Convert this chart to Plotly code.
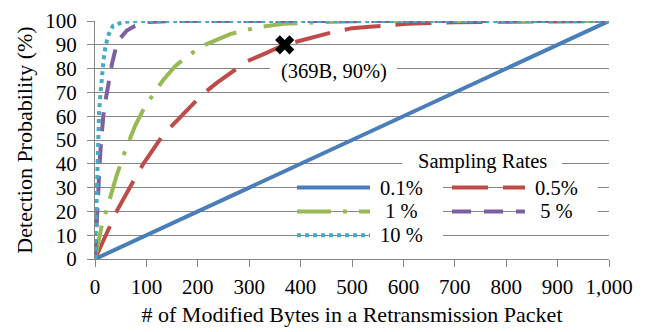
import plotly.graph_objects as go

# ---------------- data ----------------
names = ["0.1%", "0.5%", "1 %", "5 %", "10 %"]

x_01 = [0, 1000]
y_01 = [0, 100]

x_05 = [0, 15, 29, 42, 78, 94, 132, 159, 208, 237, 295, 327, 369, 457, 500, 535, 607, 700, 800, 1000]
y_05 = [0, 7.5, 14, 20, 34, 40, 52, 58, 69, 74, 83, 86, 90, 95, 97, 97.6, 98.8, 99.5, 99.8, 100]

x_1 = [0, 4, 13, 23, 33, 42, 58, 78, 97, 113, 132, 156, 181, 214, 263, 317, 366, 450, 550, 1000]
y_1 = [0, 5, 14, 21, 29, 35, 45, 56, 64, 69, 75, 81, 85.5, 90, 94.5, 97.4, 98.8, 99.6, 100, 100]

x_5 = [0, 2, 4, 6, 9, 12, 14, 17, 20, 25, 33, 42, 50, 62, 78, 101, 150, 1000]
y_5 = [0, 10, 22, 32, 40, 50, 56, 62, 66, 73, 82, 90, 93, 96, 98, 99.6, 100, 100]

x_10 = [0, 1, 2, 3, 4, 5, 6, 7, 8, 10, 12, 14, 16, 18, 21, 27, 35, 55, 80, 1000]
y_10 = [0, 10, 20, 28, 36, 42, 50, 56, 62, 68, 74, 78, 82, 86, 90, 94.6, 98, 99.6, 100, 100]

mark_x = [369]
mark_y = [90]

x_ticks = list(range(0, 1001, 100))
y_ticks = list(range(0, 101, 10))

# ---------------- styles ----------------
colors = ["#4A7EBB", "#BE4B48", "#98B954", "#7D60A0", "#46AAC5"]
dashes = ["solid", "36px,15px", "34px,12px,4px,12px", "19px,13px", "4px,4px"]
LW = 4
GRID = "#868686"
FONT = "Liberation Serif"
FS_TICK = 21
FS_TITLE = 22
FS_TXT = 20.5

W, H = 660, 332
L, R, T, B = 95, 609, 9, 259


def pxx(xp):
    return (xp - L) / (R - L)


def pxy(yp):
    return (B - yp) / (B - T)


def tfont(size):
    return dict(family=FONT, size=size, color="black")


fig = go.Figure()
series = [(x_01, y_01), (x_05, y_05), (x_1, y_1), (x_5, y_5), (x_10, y_10)]
for (xs, ys), n, c, d in zip(series, names, colors, dashes):
    fig.add_trace(go.Scatter(x=xs, y=ys, mode="lines", name=n,
                             line=dict(color=c, width=LW, dash=d),
                             showlegend=False))

fig.add_trace(go.Scatter(x=mark_x, y=mark_y, mode="markers", showlegend=False,
                         marker=dict(symbol="x", size=17, color="black",
                                     line=dict(width=0))))

shapes = []
annotations = []

# annotation for the marked point
shapes.append(dict(type="rect", xref="paper", yref="paper",
                   x0=pxx(270), x1=pxx(397), y0=pxy(78), y1=pxy(56),
                   fillcolor="white", line=dict(width=0)))
annotations.append(dict(x=mark_x[0], y=mark_y[0], xref="x", yref="y",
                        text=f"({mark_x[0]}B, {mark_y[0]}%)", showarrow=False,
                        xshift=49, yshift=-27, font=tfont(FS_TXT)))

# manual legend
shapes.append(dict(type="rect", xref="paper", yref="paper",
                   x0=pxx(402), x1=pxx(562), y0=pxy(169), y1=pxy(146),
                   fillcolor="white", line=dict(width=0)))
annotations.append(dict(x=pxx(482), y=pxy(157), xref="paper", yref="paper",
                        text="Sampling Rates", showarrow=False,
                        xanchor="center", yanchor="middle", font=tfont(FS_TXT)))

labels = ["0.1%", "0.5%", "\u00a01 %", "\u00a05 %", "10 %"]
rows = [184, 184, 209, 209, 234]
cols = [0, 1, 0, 1, 0]
col_sample = [(297, 370), (452, 525)]
col_box = [(370, 443), (525, 598)]
col_text = [378, 533]
for i in range(5):
    yy = rows[i]
    s0, s1 = col_sample[cols[i]]
    b0, b1 = col_box[cols[i]]
    shapes.append(dict(type="rect", xref="paper", yref="paper",
                       x0=pxx(b0), x1=pxx(b1), y0=pxy(yy + 11), y1=pxy(yy - 11),
                       fillcolor="white", line=dict(width=0)))
    shapes.append(dict(type="line", xref="paper", yref="paper",
                       x0=pxx(s0), x1=pxx(s1), y0=pxy(yy), y1=pxy(yy),
                       line=dict(color=colors[i], width=LW, dash=dashes[i])))
    annotations.append(dict(x=pxx(col_text[cols[i]]), y=pxy(yy), xref="paper", yref="paper",
                            text=labels[i], showarrow=False,
                            xanchor="left", yanchor="middle", font=tfont(FS_TXT)))

fig.update_layout(
    width=W, height=H,
    margin=dict(l=L, r=W - R, t=T, b=H - B, pad=0),
    paper_bgcolor="white", plot_bgcolor="white",
    font=tfont(FS_TICK),
    shapes=shapes, annotations=annotations,
    showlegend=False,
)
fig.update_xaxes(range=[0, 1000], tickvals=x_ticks, tickformat=",d",
                 showgrid=False, zeroline=False, showline=True, linecolor=GRID, linewidth=1,
                 ticks="outside", ticklen=7, tickcolor=GRID, tickwidth=1,
                 ticklabelstandoff=2, ticklabeloverflow="allow",
                 tickfont=tfont(FS_TICK),
                 title=dict(text="# of Modified Bytes in a Retransmission Packet",
                            font=tfont(FS_TITLE), standoff=8))
fig.update_yaxes(range=[0, 100], tickvals=y_ticks,
                 showgrid=True, gridcolor=GRID, gridwidth=1, zeroline=False,
                 showline=True, linecolor=GRID, linewidth=1,
                 ticks="outside", ticklen=7, tickcolor=GRID, tickwidth=1,
                 ticklabelstandoff=6, ticklabeloverflow="allow",
                 tickfont=tfont(FS_TICK),
                 title=dict(text="Detection Probability (%)",
                            font=tfont(FS_TITLE), standoff=6))

fig.write_html("out.html")
